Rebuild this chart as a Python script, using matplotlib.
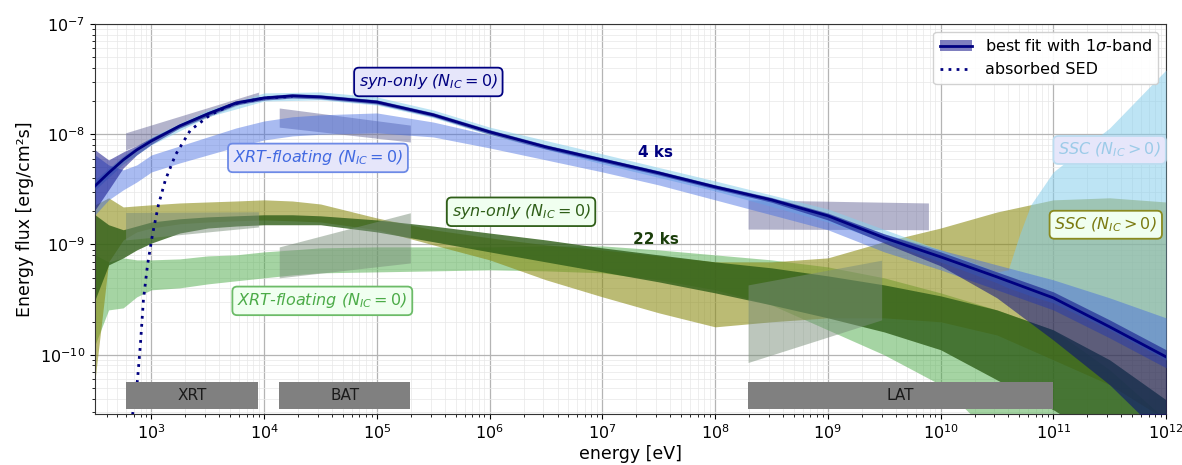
import numpy as np
import matplotlib
matplotlib.use('Agg')
import matplotlib.pyplot as plt
from matplotlib.patches import Patch, Rectangle
from matplotlib.lines import Line2D
from matplotlib.ticker import FixedLocator, NullFormatter, LogFormatterSciNotation

# ---------------- data (energy in eV, flux in erg/cm^2/s) ----------------
energy = [3.16e2, 4.17e2, 5.62e2, 7.41e2, 1e3, 1.78e3, 3.16e3, 5.62e3, 1e4, 1.78e4,
          3.16e4, 1e5, 3.16e5, 1e6, 3.16e6, 1e7, 3.16e7, 1e8, 3.16e8, 1e9,
          3.16e9, 1e10, 3.16e10, 1e11, 3.16e11, 1e12]

# 4 ks, syn-only best fit and band
best_fit_4ks = [3.40e-9, 4.46e-9, 5.85e-9, 7.21e-9, 8.69e-9, 1.19e-8, 1.53e-8, 1.92e-8,
                2.13e-8, 2.23e-8, 2.18e-8, 1.96e-8, 1.50e-8, 1.05e-8, 7.67e-9, 5.85e-9,
                4.46e-9, 3.33e-9, 2.54e-9, 1.82e-9, 1.15e-9, 7.72e-10, 5.08e-10, 3.28e-10,
                1.79e-10, 9.57e-11]
syn4_hi = [7.21e-9, 5.85e-9, 6.91e-9, 7.9e-9, 9.3e-9, 1.24e-8, 1.60e-8, 2.01e-8,
           2.23e-8, 2.33e-8, 2.28e-8, 2.05e-8, 1.57e-8, 1.10e-8, 8.02e-9, 6.11e-9,
           4.66e-9, 3.48e-9, 2.67e-9, 1.93e-9, 1.25e-9, 8.57e-10, 5.64e-10, 3.72e-10,
           2.07e-10, 1.11e-10]
syn4_lo = [2.06e-9, 3.13e-9, 4.95e-9, 6.5e-9, 8.1e-9, 1.14e-8, 1.46e-8, 1.84e-8,
           2.04e-8, 2.13e-8, 2.09e-8, 1.88e-8, 1.44e-8, 1.00e-8, 7.34e-9, 5.60e-9,
           4.27e-9, 3.19e-9, 2.42e-9, 1.67e-9, 1.03e-9, 6.40e-10, 3.28e-10, 1.36e-10,
           5.34e-11, 1.69e-11]

# 4 ks, XRT-floating band
xrt4_hi = [6.49e-9, 5.27e-9, 4.75e-9, 5.27e-9, 6.49e-9, 7.83e-9, 9.45e-9, 1.14e-8,
           1.32e-8, 1.44e-8, 1.50e-8, 1.56e-8, 1.29e-8, 9.86e-9, 7.51e-9, 5.85e-9,
           4.46e-9, 3.33e-9, 2.54e-9, 1.89e-9, 1.25e-9, 8.93e-10, 6.53e-10, 4.78e-10,
           3.28e-10, 2.16e-10]
xrt4_lo = [1.86e-9, 2.54e-9, 3.13e-9, 3.69e-9, 4.55e-9, 5.49e-9, 6.49e-9, 7.67e-9,
           8.88e-9, 9.65e-9, 1.00e-8, 1.03e-8, 9.45e-9, 7.51e-9, 5.85e-9, 4.55e-9,
           3.47e-9, 2.54e-9, 1.86e-9, 1.36e-9, 8.57e-10, 5.89e-10, 3.88e-10, 2.55e-10,
           1.42e-10, 7.61e-11]

# 4 ks, SSC band
ssc4_energy = [3.16e2, 5.62e2, 1e3, 3.16e3, 1e4, 3.16e4, 1e5, 3.16e5, 1e6, 1e7, 1e8,
               1e9, 1e10, 3.16e10, 3.98e10, 5.01e10, 6.31e10, 1e11, 3.16e11, 1e12]
ssc4_hi = [3.85e-9, 6.36e-9, 9.45e-9, 1.66e-8, 2.37e-8, 2.42e-8, 2.18e-8, 1.66e-8,
           1.16e-8, 6.63e-9, 3.77e-9, 2.10e-9, 8.93e-10, 5.64e-10, 5.89e-10, 1.22e-9,
           2.29e-9, 4.55e-9, 1.14e-8, 3.83e-8]
ssc4_lo = [3.13e-9, 5.38e-9, 8.00e-9, 1.44e-8, 2.00e-8, 2.05e-8, 1.84e-8, 1.41e-8,
           9.86e-9, 5.38e-9, 3.06e-9, 1.60e-9, 6.95e-10, 4.49e-10, 4.04e-10, 3.72e-10,
           3.42e-10, 2.95e-10, 1.68e-10, 8.99e-11]

# 22 ks, syn-only band
syn22_hi = [1.86e-9, 1.51e-9, 1.36e-9, 1.47e-9, 1.60e-9, 1.71e-9, 1.78e-9, 1.82e-9,
            1.86e-9, 1.86e-9, 1.82e-9, 1.67e-9, 1.47e-9, 1.27e-9, 1.10e-9, 9.32e-10,
            8.05e-10, 6.95e-10, 6.14e-10, 5.19e-10, 4.30e-10, 3.42e-10, 2.55e-10, 1.68e-10,
            8.99e-11, 3.90e-11]
syn22_lo = [3.15e-10, 6.53e-10, 7.56e-10, 8.93e-10, 1.03e-9, 1.27e-9, 1.41e-9, 1.47e-9,
            1.51e-9, 1.51e-9, 1.51e-9, 1.30e-9, 1.06e-9, 8.57e-10, 6.95e-10, 5.64e-10,
            4.58e-10, 3.64e-10, 2.83e-10, 2.16e-10, 1.61e-10, 1.11e-10, 5.92e-11, 3.17e-11,
            1.52e-11, 4.84e-12]

# 22 ks, XRT-floating band
xrt22_hi = [8.05e-10, 6.95e-10, 7.56e-10, 7.25e-10, 7.25e-10, 7.40e-10, 7.88e-10, 8.05e-10,
            8.57e-10, 8.93e-10, 9.32e-10, 9.51e-10, 9.51e-10, 9.51e-10, 9.71e-10, 9.71e-10,
            8.93e-10, 8.05e-10, 7.25e-10, 6.26e-10, 4.98e-10, 3.64e-10, 2.55e-10, 1.68e-10,
            7.30e-11, 2.57e-11]
xrt22_lo = [1.23e-10, 2.55e-10, 2.66e-10, 3.35e-10, 3.88e-10, 4.04e-10, 4.39e-10, 4.68e-10,
            4.98e-10, 5.30e-10, 5.53e-10, 5.64e-10, 5.76e-10, 5.89e-10, 5.76e-10, 5.53e-10,
            4.78e-10, 3.88e-10, 2.83e-10, 1.68e-10, 9.98e-11, 5.34e-11, 1.69e-11, 4.84e-12,
            1.70e-12, 6.0e-13]

# 22 ks, SSC band
ssc22_hi = [2.29e-9, 2.65e-9, 2.19e-9, 2.24e-9, 2.29e-9, 2.38e-9, 2.43e-9, 2.48e-9,
            2.54e-9, 2.48e-9, 2.33e-9, 1.74e-9, 1.36e-9, 1.15e-9, 9.92e-10, 8.93e-10,
            7.88e-10, 6.95e-10, 6.95e-10, 7.56e-10, 1.06e-9, 1.41e-9, 1.97e-9, 2.54e-9,
            2.65e-9, 2.43e-9]
ssc22_lo = [5.92e-11, 6.95e-10, 1.10e-9, 1.30e-9, 1.41e-9, 1.54e-9, 1.60e-9, 1.64e-9,
            1.67e-9, 1.64e-9, 1.60e-9, 1.36e-9, 9.92e-10, 7.25e-10, 4.78e-10, 3.35e-10,
            2.40e-10, 1.79e-10, 1.99e-10, 2.16e-10, 2.16e-10, 1.99e-10, 1.51e-10, 8.99e-11,
            5.34e-11, 2.57e-11]

# absorbed SED (4 ks)
absorbed_energy = [680, 721, 752, 798, 849, 923, 1020, 1153, 1330, 1634, 2217, 3337,
                   5330, 1e4, 1.78e4]
absorbed_flux = [2.85e-11, 4.4e-11, 5.9e-11, 1.23e-10, 3.15e-10, 6.5e-10, 1.22e-9,
                 2.28e-9, 3.85e-9, 6.5e-9, 1.09e-8, 1.5e-8, 1.88e-8, 2.13e-8, 2.2e-8]

# data butterflies: [emin, emax], upper [at emin, at emax], lower [at emin, at emax]
bf4_erange = [[5.9e2, 8.9e3], [1.36e4, 1.98e5], [1.96e8, 7.8e9]]
bf4_upper = [[1.03e-8, 2.41e-8], [1.73e-8, 1.21e-8], [2.54e-9, 2.38e-9]]
bf4_lower = [[7.2e-9, 2.18e-8], [1.16e-8, 8.5e-9], [1.38e-9, 1.36e-9]]
bf22_erange = [[5.9e2, 8.9e3], [1.36e4, 1.98e5], [1.96e8, 3.0e9]]
bf22_upper = [[1.95e-9, 1.98e-9], [9.5e-10, 1.94e-9], [4.3e-10, 7.2e-10]]
bf22_lower = [[1.10e-9, 1.44e-9], [4.98e-10, 6.8e-10], [8.5e-11, 2.07e-10]]

# instrument coverage bars
instrument_names = ['XRT', 'BAT', 'LAT']
instrument_emin = [5.9e2, 1.36e4, 1.96e8]
instrument_emax = [8.9e3, 1.98e5, 1.0e11]

# ---------------- figure ----------------
XMIN, XMAX = 3.16e2, 1e12
YMIN, YMAX = 2.9e-11, 1e-7

fig = plt.figure(figsize=(11.82, 4.65), dpi=100)
ax = fig.add_axes([0.0804, 0.1097, 0.9061, 0.8387])
ax.set_xscale('log')
ax.set_yscale('log')
ax.set_xlim(XMIN, XMAX)
ax.set_ylim(YMIN, YMAX)

# 22 ks bands
ax.fill_between(energy, xrt22_lo, xrt22_hi, color='#4cab48', alpha=0.5, lw=0, zorder=2)
ax.fill_between(energy, ssc22_lo, ssc22_hi, color='#8a8a10', alpha=0.58, lw=0, zorder=2)
ax.fill_between(energy, syn22_lo, syn22_hi, color='#2f5e18', alpha=0.8, lw=0, zorder=2)

# butterflies
for er, up, lo in zip(bf22_erange, bf22_upper, bf22_lower):
    ax.fill_between(er, lo, up, color='#7a8f7a', alpha=0.5, lw=0, zorder=3)
for er, up, lo in zip(bf4_erange, bf4_upper, bf4_lower):
    ax.fill_between(er, lo, up, color='#6a6a9a', alpha=0.5, lw=0, zorder=3)

# 4 ks bands
ax.fill_between(ssc4_energy, ssc4_lo, ssc4_hi, color='#87ceeb', alpha=0.55, lw=0, zorder=4)
ax.fill_between(energy, xrt4_lo, xrt4_hi, color='#4169e1', alpha=0.45, lw=0, zorder=4)
ax.fill_between(energy, syn4_lo, syn4_hi, color='#000080', alpha=0.5, lw=0, zorder=5)
ax.plot(energy, best_fit_4ks, color='#000080', lw=2.0, zorder=6)
ax.plot(absorbed_energy, absorbed_flux, color='#000080', lw=2.0, ls=(0, (1, 1.9)), zorder=6)

# instrument bars
for name, e0, e1 in zip(instrument_names, instrument_emin, instrument_emax):
    ax.add_patch(Rectangle((e0, 3.2e-11), e1 - e0, 5.7e-11 - 3.2e-11,
                           facecolor='#808080', edgecolor='none', zorder=8))
    ax.text(np.sqrt(e0 * e1), 4.3e-11, name, ha='center', va='center',
            fontsize=11, color='#1a1a1a', zorder=9)

# annotations
def label(x, y, s, tc, fc, ec):
    ax.text(x, y, s, color=tc, fontsize=11.5, style='italic', ha='center', va='center',
            zorder=10, bbox=dict(boxstyle='round,pad=0.3', facecolor=fc, edgecolor=ec, lw=1.3))

label(2.86e5, 2.98e-8, r'syn-only ($N_{IC}=0$)', '#000080', '#e6e6fa', '#000080')
label(3.0e4, 6.1e-9, r'XRT-floating ($N_{IC}=0$)', '#4169e1', '#e6e6fa', '#6d8ae6')
label(3.16e11, 7.2e-9, r'SSC ($N_{IC}>0$)', '#9ccbe8', '#e6e6fa', '#bcdcf0')
label(1.9e6, 1.98e-9, r'syn-only ($N_{IC}=0$)', '#2f5e18', '#f0fff0', '#2f5e18')
label(3.28e4, 3.08e-10, r'XRT-floating ($N_{IC}=0$)', '#4cab48', '#f0fff0', '#6cbb68')
label(2.92e11, 1.51e-9, r'SSC ($N_{IC}>0$)', '#7a7a10', '#f0fff0', '#8a8a20')

ax.text(2.94e7, 6.9e-9, '4 ks', color='#000080', fontsize=11, fontweight='bold',
        ha='center', va='center', zorder=10)
ax.text(3.0e7, 1.1e-9, '22 ks', color='#1a3d0a', fontsize=11, fontweight='bold',
        ha='center', va='center', zorder=10)

# axes styling: ticks only inside the visible range
xmaj = [10.0 ** k for k in range(3, 13)]
xmin_t = [m * 10.0 ** k for k in range(2, 12) for m in range(2, 10) if XMIN <= m * 10.0 ** k <= XMAX]
ymaj = [10.0 ** k for k in range(-10, -6)]
ymin_t = [m * 10.0 ** k for k in range(-11, -7) for m in range(2, 10) if YMIN <= m * 10.0 ** k <= YMAX]
ax.xaxis.set_major_locator(FixedLocator(xmaj))
ax.xaxis.set_minor_locator(FixedLocator(xmin_t))
ax.xaxis.set_major_formatter(LogFormatterSciNotation())
ax.xaxis.set_minor_formatter(NullFormatter())
ax.yaxis.set_major_locator(FixedLocator(ymaj))
ax.yaxis.set_minor_locator(FixedLocator(ymin_t))
ax.yaxis.set_major_formatter(LogFormatterSciNotation())
ax.yaxis.set_minor_formatter(NullFormatter())
ax.grid(True, which='major', color='#b4b4b4', lw=0.9, zorder=0)
ax.grid(True, which='minor', color='#e8e8e8', lw=0.5, zorder=0)
ax.set_axisbelow(True)
ax.tick_params(labelsize=11.5)
ax.set_xlabel('energy [eV]', fontsize=12.5, labelpad=2)
ax.set_ylabel('Energy flux [erg/cm²s]', fontsize=12.5, labelpad=4)
for sp in ax.spines.values():
    sp.set_color('#333333')

h_fit = (Patch(facecolor='#000080', alpha=0.5, edgecolor='none'),
         Line2D([], [], color='#000080', lw=2))
h_abs = Line2D([], [], color='#000080', lw=2.0, ls=(0, (1, 1.9)))
leg = ax.legend([h_fit, h_abs], [r'best fit with 1$\sigma$-band', 'absorbed SED'],
                loc='upper right', fontsize=11.5, framealpha=0.9, borderaxespad=0.5)
leg.set_zorder(20)

fig.savefig('out.png', dpi=100)
